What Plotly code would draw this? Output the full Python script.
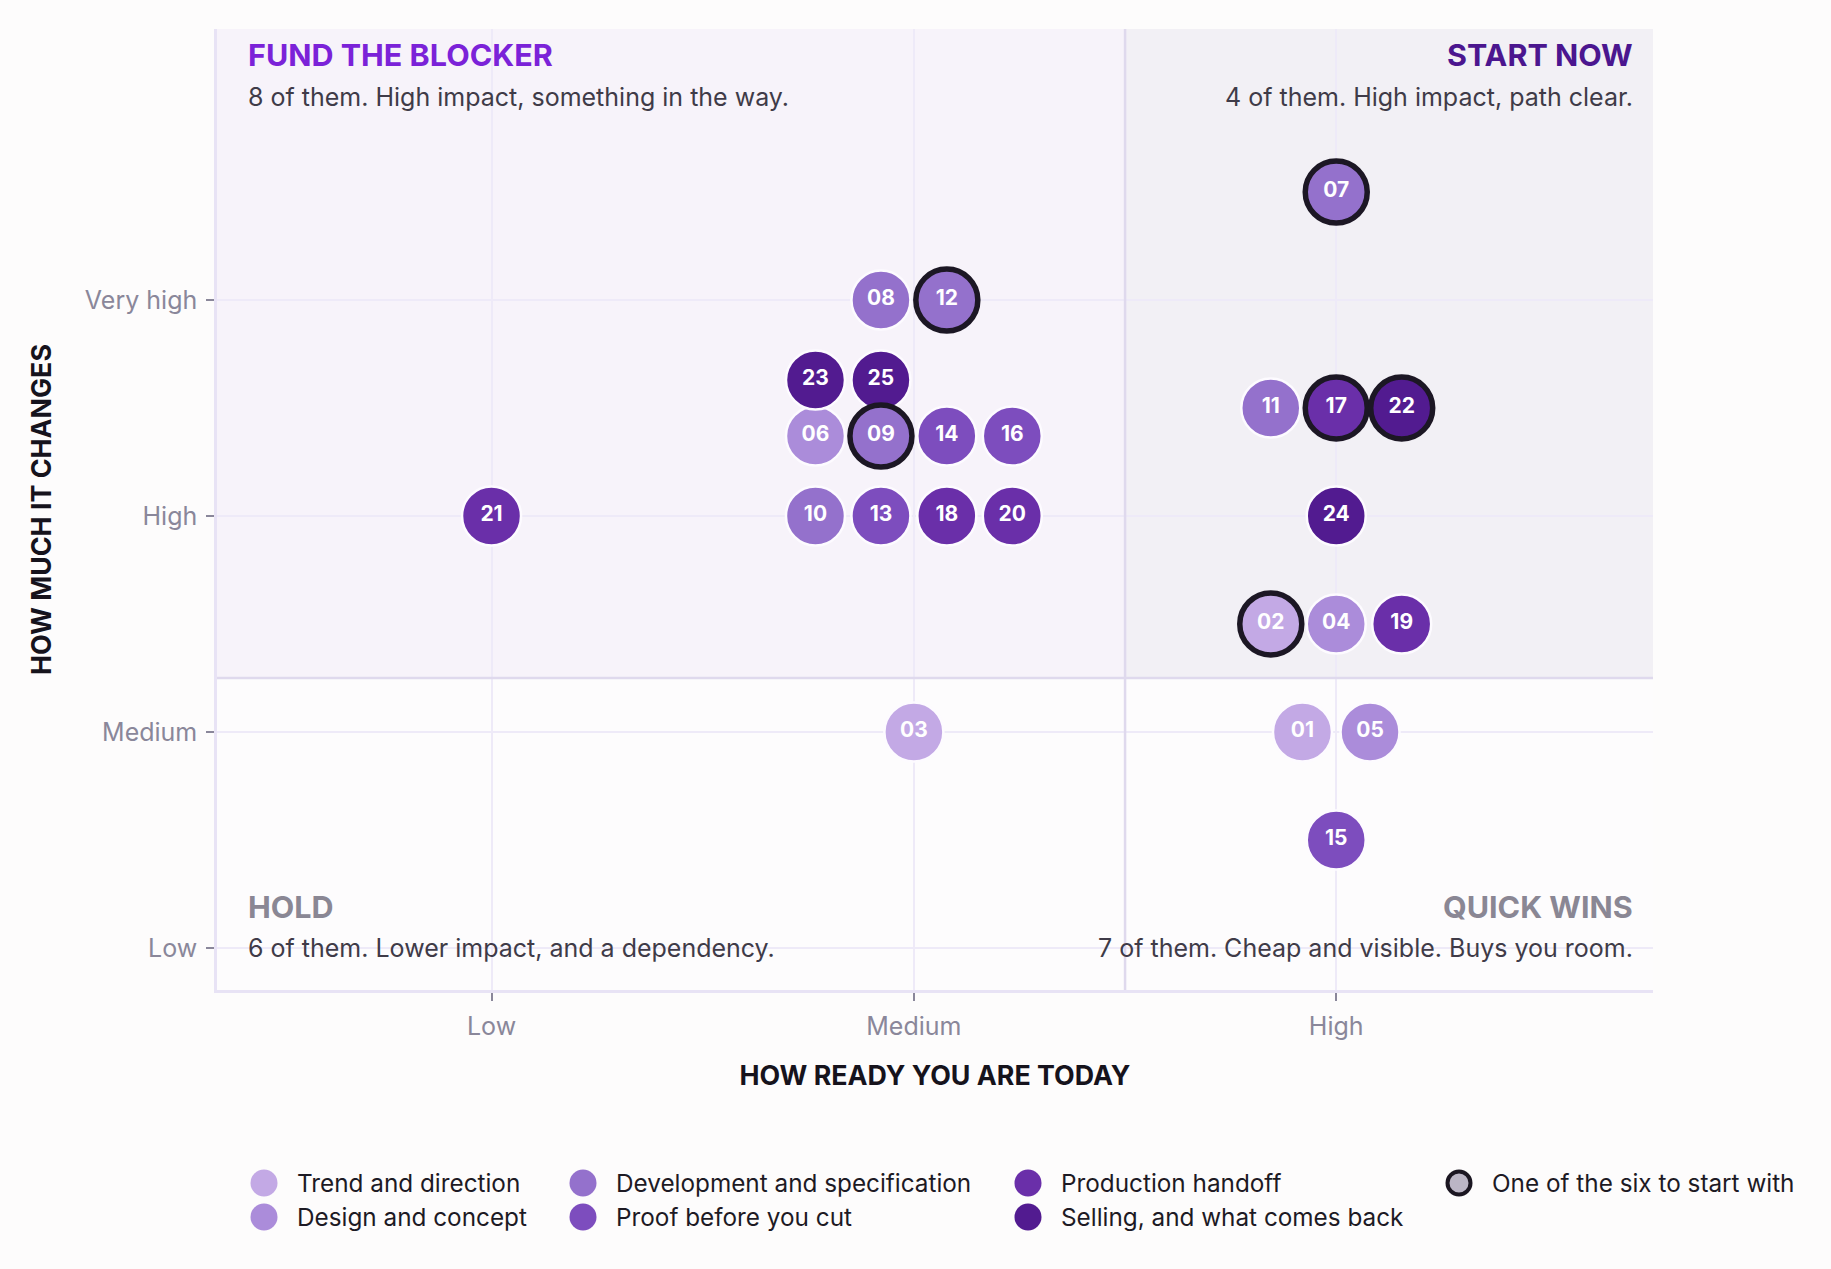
import plotly.graph_objects as go

# the 25 ideas (readiness: Low=1 .. High=3, impact: Low=1 .. Very high=4)
ids = ["01", "02", "03", "04", "05", "06", "07", "08", "09", "10", "11", "12", "13",
       "14", "15", "16", "17", "18", "19", "20", "21", "22", "23", "24", "25"]
readiness = [2.92, 2.845, 2.0, 3.0, 3.08, 1.767, 3.0, 1.922, 1.922, 1.767, 2.845, 2.078, 1.922,
             2.078, 3.0, 2.233, 3.0, 2.078, 3.155, 2.233, 1.0, 3.155, 1.767, 3.0, 1.922]
impact = [2.0, 2.5, 2.0, 2.5, 2.0, 3.37, 4.5, 4.0, 3.37, 3.0, 3.5, 4.0, 3.0,
          3.37, 1.5, 3.37, 3.5, 3.0, 2.5, 3.0, 3.0, 3.5, 3.63, 3.0, 3.63]
stage = [0, 0, 0, 1, 1, 1, 2, 2, 2, 2, 2, 2, 3,
         3, 3, 3, 4, 4, 4, 4, 4, 5, 5, 5, 5]
start_with = ["02", "07", "09", "12", "17", "22"]

stages = ["Trend and direction", "Design and concept", "Development and specification",
          "Proof before you cut", "Production handoff", "Selling, and what comes back"]
stage_colors = ["#c3a9e5", "#ab8cda", "#9471cc", "#7d4dbe", "#6a2fa9", "#521b90"]
start_label = "One of the six to start with"

x_labels = ["Low", "Medium", "High"]
y_labels = ["Low", "Medium", "High", "Very high"]

quad_titles = ["FUND THE BLOCKER", "START NOW", "HOLD", "QUICK WINS"]
quad_notes = ["8 of them. High impact, something in the way.",
              "4 of them. High impact, path clear.",
              "6 of them. Lower impact, and a dependency.",
              "7 of them. Cheap and visible. Buys you room."]
quad_colors = ["#7b22d8", "#4b168f", "#8a8794", "#8a8794"]

W, H = 1831, 1269
L, R, T, B = 217, 178, 29, 279
PW, PH = W - L - R, H - T - B
XR = [0.35, 3.75]
YR = [0.805, 5.255]
X_SPLIT, Y_SPLIT = 2.5, 2.25
FONT = "Inter"

fig = go.Figure()

# one trace per stage, the six picks go on top with a dark ring
for s, name in enumerate(stages):
    idx = [i for i in range(len(ids)) if stage[i] == s and ids[i] not in start_with]
    fig.add_trace(go.Scatter(
        x=[readiness[i] for i in idx], y=[impact[i] for i in idx],
        text=[ids[i] for i in idx], mode="markers+text", name=name,
        marker=dict(size=59, color=stage_colors[s], line=dict(color="#fdfbff", width=2.5)),
        textfont=dict(family=FONT, size=21, color="white", weight=700),
        textposition="middle center", showlegend=False, hoverinfo="skip"))

picks = [ids.index(k) for k in start_with]
fig.add_trace(go.Scatter(
    x=[readiness[i] for i in picks], y=[impact[i] for i in picks],
    text=[ids[i] for i in picks], mode="markers+text", name=start_label,
    marker=dict(size=62, color=[stage_colors[stage[i]] for i in picks],
                line=dict(color="#1c1724", width=5.5)),
    textfont=dict(family=FONT, size=21, color="white", weight=700),
    textposition="middle center", showlegend=False, hoverinfo="skip"))

# quadrant tints and dividers
shapes = [
    dict(type="rect", xref="x", yref="y", x0=XR[0], x1=X_SPLIT, y0=Y_SPLIT, y1=YR[1],
         fillcolor="#f7f3fa", line_width=0, layer="below"),
    dict(type="rect", xref="x", yref="y", x0=X_SPLIT, x1=XR[1], y0=Y_SPLIT, y1=YR[1],
         fillcolor="#f2f0f5", line_width=0, layer="below"),
    dict(type="line", xref="x", yref="y", x0=X_SPLIT, x1=X_SPLIT, y0=YR[0], y1=YR[1],
         line=dict(color="#dfd9ed", width=2.5), layer="between"),
    dict(type="line", xref="x", yref="y", x0=XR[0], x1=XR[1], y0=Y_SPLIT, y1=Y_SPLIT,
         line=dict(color="#dfd9ed", width=2.5), layer="between"),
]

annotations = []
corners = [(0, 1), (1, 1), (0, 0), (1, 0)]
for (cx, cy), title, note, col in zip(corners, quad_titles, quad_notes, quad_colors):
    anchor = "left" if cx == 0 else "right"
    xs = 29 if cx == 0 else -18
    ty, ny = (-25, -68) if cy == 1 else (84, 42)
    annotations.append(dict(xref="paper", yref="paper", x=cx, y=cy, xanchor=anchor, yanchor="middle",
                            xshift=xs, yshift=ty, text=title, showarrow=False,
                            font=dict(family=FONT, size=30.5, color=col, weight=700)))
    annotations.append(dict(xref="paper", yref="paper", x=cx, y=cy, xanchor=anchor, yanchor="middle",
                            xshift=xs, yshift=ny, text=note, showarrow=False,
                            font=dict(family=FONT, size=25, color="#3f3b48")))

# legend drawn by hand so the dots can be as big as in the original
def paper_x(px):
    return (px - L) / PW

def paper_y(py):
    return (H - B - py) / PH

col_x = [264, 583, 1028, 1459]
row_y = [1183, 1217]
entries = [(0, 0, 0), (0, 1, 1), (1, 0, 2), (1, 1, 3), (2, 0, 4), (2, 1, 5)]
for c, r, s in entries:
    shapes.append(dict(type="circle", xref="paper", yref="paper", xsizemode="pixel", ysizemode="pixel",
                       xanchor=paper_x(col_x[c]), yanchor=paper_y(row_y[r]),
                       x0=-13.5, x1=13.5, y0=-13.5, y1=13.5,
                       fillcolor=stage_colors[s], line_width=0))
    annotations.append(dict(xref="paper", yref="paper", x=paper_x(col_x[c] + 31), y=paper_y(row_y[r]),
                            xanchor="left", yanchor="middle", text=stages[s], showarrow=False,
                            font=dict(family=FONT, size=24.3, color="#1d1a24")))
shapes.append(dict(type="circle", xref="paper", yref="paper", xsizemode="pixel", ysizemode="pixel",
                   xanchor=paper_x(col_x[3]), yanchor=paper_y(row_y[0]),
                   x0=-11.5, x1=11.5, y0=-11.5, y1=11.5,
                   fillcolor="#bbb5c5", line=dict(color="#1b1621", width=4)))
annotations.append(dict(xref="paper", yref="paper", x=paper_x(col_x[3] + 31), y=paper_y(row_y[0]),
                        xanchor="left", yanchor="middle", text=start_label, showarrow=False,
                        font=dict(family=FONT, size=24.3, color="#1d1a24")))

axis_common = dict(showgrid=True, gridcolor="#eeeaf8", gridwidth=1.5, zeroline=False,
                   showline=True, linecolor="#e8e3f5", linewidth=2.5,
                   ticks="outside", ticklen=8, tickcolor="#8a879a", tickwidth=1.5,
                   tickfont=dict(family=FONT, size=25, color="#8a879a"))
title_font = dict(family=FONT, size=26.8, color="#16131c", weight=700)

fig.update_layout(
    width=W, height=H, margin=dict(l=L, r=R, t=T, b=B),
    paper_bgcolor="#fdfcfc", plot_bgcolor="#fdfcfd",
    shapes=shapes, annotations=annotations,
    xaxis=dict(range=XR, tickvals=[1, 2, 3], ticktext=x_labels, ticklabelstandoff=4,
               title=dict(text="HOW READY YOU ARE TODAY", standoff=27, font=title_font),
               **axis_common),
    yaxis=dict(range=YR, tickvals=[1, 2, 3, 4], ticktext=y_labels, ticklabelstandoff=4,
               title=dict(text="HOW MUCH IT CHANGES", standoff=26, font=title_font),
               **axis_common),
)

# the page body has a default margin; drop it so the figure sits at the window corner
fig.write_html("out.html", config={"displayModeBar": False},
               post_script="document.body.style.margin='0';")
